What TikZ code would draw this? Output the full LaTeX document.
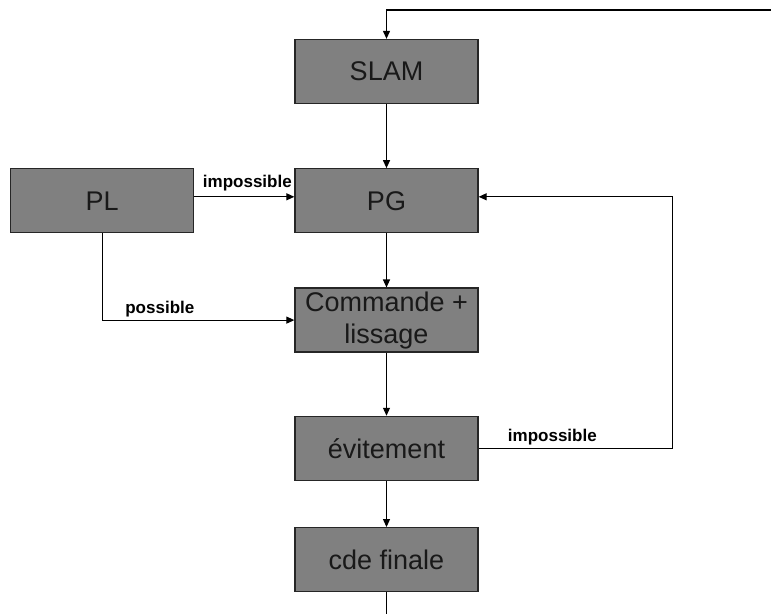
\documentclass[tikz,border=0pt]{standalone}
\usepackage{fontspec}
\setmainfont{Liberation Sans}
\usetikzlibrary{arrows.meta,positioning,calc}
\definecolor{blocgris}{HTML}{808080}

\begin{document}
\begin{tikzpicture}[
  box/.style={draw=black!85, line width=1.3pt, fill=blocgris,
              font=\fontsize{27}{32}\selectfont, align=center,
              minimum width=183pt, minimum height=64pt, inner sep=1pt, text=black!90},
  arrow/.style={-{Triangle[length=8pt,width=7pt]}, line width=1.1pt},
  line/.style={line width=1.1pt},
  lbl/.style={font=\fontsize{17}{19}\selectfont\bfseries, inner sep=2pt},
]
\useasboundingbox (0,0) rectangle (771pt,-614pt);

%% ---- chaine principale ----
\node[box] (slam) at (386.5pt,-71.5pt) {SLAM};
\node[box, below=64pt of slam] (pg) {PG};
\node[box, below=54pt of pg]   (cmd) {Commande +\\lissage};
\node[box, below=63pt of cmd]  (evit) {évitement};
\node[box, below=46pt of evit] (cde) {cde finale};

%% ---- planificateur local ----
\node[box, left=100pt of pg] (pl) {PL};

%% ---- entree / sortie ----
\coordinate (entree) at (771pt,-10pt);
\coordinate (sortie) at (cde.south |- 0,-614pt);

\draw[arrow] (entree) -| (slam.north);
\draw[arrow] (slam) -- (pg);
\draw[arrow] (pg) -- (cmd);
\draw[arrow] (cmd) -- (evit);
\draw[arrow] (evit) -- (cde);
\draw[line] (cde) -- (sortie);

%% ---- branches ----
\draw[arrow] ([yshift=4pt]pl.east) -- node[lbl, above, pos=0.53, yshift=3pt]{impossible} ([yshift=4pt]pg.west);
\draw[arrow] (pl.south) |- node[lbl, above, pos=0.65, yshift=1pt]{possible} (cmd.west);
\draw[arrow] (evit.east) -- node[lbl, above, pos=0.38, yshift=1pt]{impossible} ++(194pt,0) |- ([yshift=4pt]pg.east);

\end{tikzpicture}
\end{document}
